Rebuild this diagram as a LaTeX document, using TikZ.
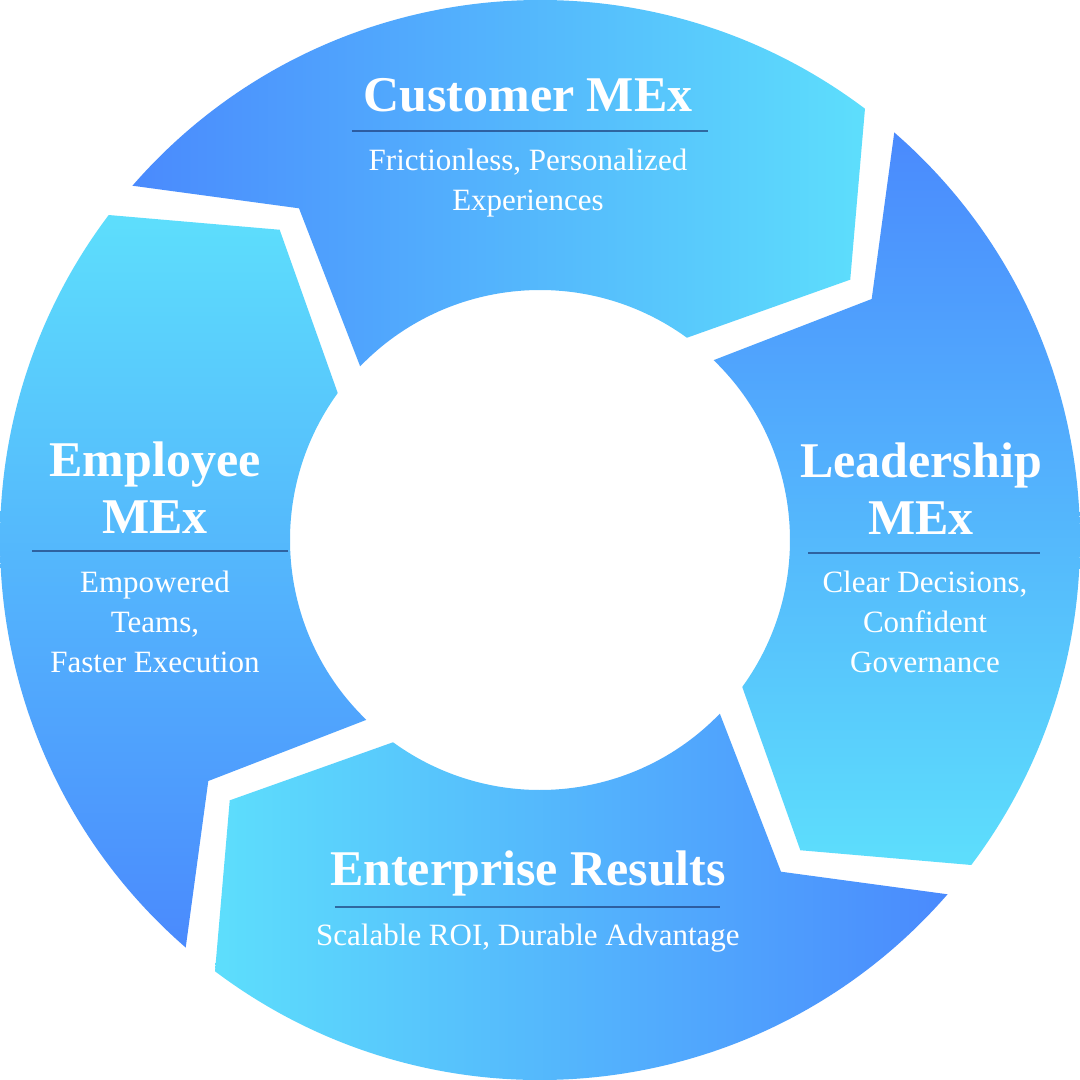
\documentclass[tikz,border=0pt]{standalone}
\usepackage{fontspec}
\setmainfont{Liberation Serif}
\begin{document}
\definecolor{bb}{HTML}{4A8AFD}
\definecolor{cc}{HTML}{5DDEFC}
\colorlet{mm}{bb!80!cc}
\definecolor{ln}{HTML}{1E3E7A}
\begin{tikzpicture}[x=1pt,y=1pt,
  ttl/.style={text=white,font=\fontsize{50}{57}\selectfont\bfseries,align=center},
  sub/.style={text=white,font=\fontsize{31}{40}\selectfont,align=center},
  rule/.style={draw=ln,opacity=0.7,line width=1.2pt}]
\fill[white] (-540,-540) rectangle (540,540);
\useasboundingbox (-540,-540) rectangle (540,540);
\newcommand{\seg}[2]{%
 \shade[#2] (139+#1:540) arc[start angle=139+#1, end angle=53+#1, radius=540] -- (40+#1:405) -- (54+#1:250) arc[start angle=54+#1, end angle=136+#1, radius=250] -- (126+#1:410) -- cycle;}
\seg{0}{left color=bb,middle color=mm,right color=cc}
\seg{-90}{top color=bb,middle color=mm,bottom color=cc}
\seg{-180}{left color=cc,middle color=mm,right color=bb}
\seg{-270}{bottom color=bb,middle color=mm,top color=cc}
% top
\node[ttl] (t1) at (-12,445) {Customer MEx};
\coordinate (a1) at (-188,409); \coordinate (b1) at (168,409);
\draw[rule] (a1) -- (b1);
\node[sub] (s1) at (-12,357) {Frictionless, Personalized\\Experiences};
% left
\node[ttl] (t2) at (-385,52) {Employee\\MEx};
\coordinate (a2) at (-508,-11); \coordinate (b2) at (-252,-11);
\draw[rule] (a2) -- (b2);
\node[sub] (s2) at (-385,-82) {Empowered\\Teams,\\Faster Execution};
% right
\node[ttl] (t3) at (381,51) {Leadership\\MEx};
\coordinate (a3) at (268,-13); \coordinate (b3) at (500,-13);
\draw[rule] (a3) -- (b3);
\node[sub] (s3) at (385,-82) {Clear Decisions,\\Confident\\Governance};
% bottom
\node[ttl] (t4) at (-12,-333) {Enterprise Results};
\coordinate (a4) at (-205,-367); \coordinate (b4) at (180,-367);
\draw[rule] (a4) -- (b4);
\node[sub] (s4) at (-12,-398) {Scalable ROI, Durable Advantage};
\end{tikzpicture}
\end{document}
